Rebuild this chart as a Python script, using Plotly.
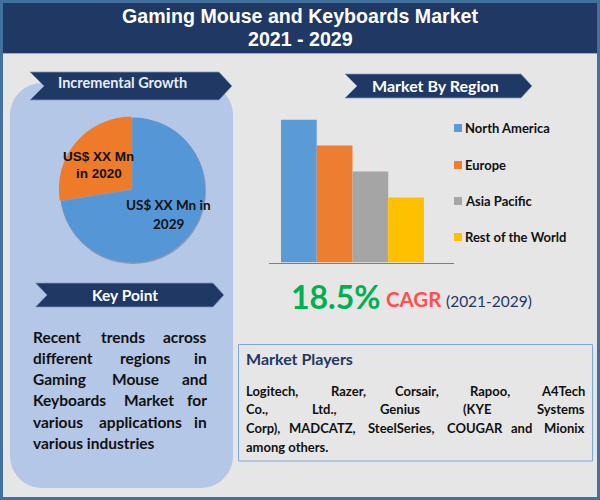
import plotly.graph_objects as go

TITLE_LINES = ["Gaming Mouse and Keyboards Market", "2021 - 2029"]
PIE_LABELS = ["US$ XX Mn in 2029", "US$ XX Mn in 2020"]
PIE_VALUES = [72.5, 27.5]
PIE_COLORS = ["#5596d6", "#ee7b2a"]
REGIONS = ["North America", "Europe", "Asia Pacific", "Rest of the World"]
REGION_VALUES = [4.4, 3.6, 2.8, 2.0]
REGION_COLORS = ["#5b9bd5", "#ed7d31", "#a5a5a5", "#ffc000"]

W, H = 600, 500
LATO = "Lato"
ARIAL = "Liberation Sans"
NAVY = "#1f3864"


def px(x):
    return x / W


def py(y):
    return 1 - y / H


def rect(x0, y0, x1, y1, fill, line=None, lw=0):
    return dict(type="rect", xref="paper", yref="paper", x0=px(x0), x1=px(x1), y0=py(y0), y1=py(y1),
                fillcolor=fill, line=dict(color=line or fill, width=lw), layer="below")


def poly(points, fill, line=None, lw=0):
    path = "M " + " L ".join(f"{px(x):.5f},{py(y):.5f}" for x, y in points) + " Z"
    return dict(type="path", xref="paper", yref="paper", path=path, fillcolor=fill,
                line=dict(color=line or fill, width=lw), layer="below")


def ribbon(x0, x1, tip, notch, y0, y1):
    ym = (y0 + y1) / 2
    return poly([(x0, y0), (x1, y0), (tip, ym), (x1, y1), (x0, y1), (notch, ym)], NAVY, "#7f9cc4", 0.75)


def rounded(x0, y0, x1, y1, r, fill):
    k = r * 0.45
    pts = [
        f"M {px(x0 + r):.5f},{py(y0):.5f}", f"L {px(x1 - r):.5f},{py(y0):.5f}",
        f"C {px(x1 - k):.5f},{py(y0):.5f} {px(x1):.5f},{py(y0 + k):.5f} {px(x1):.5f},{py(y0 + r):.5f}",
        f"L {px(x1):.5f},{py(y1 - r):.5f}",
        f"C {px(x1):.5f},{py(y1 - k):.5f} {px(x1 - k):.5f},{py(y1):.5f} {px(x1 - r):.5f},{py(y1):.5f}",
        f"L {px(x0 + r):.5f},{py(y1):.5f}",
        f"C {px(x0 + k):.5f},{py(y1):.5f} {px(x0):.5f},{py(y1 - k):.5f} {px(x0):.5f},{py(y1 - r):.5f}",
        f"L {px(x0):.5f},{py(y0 + r):.5f}",
        f"C {px(x0):.5f},{py(y0 + k):.5f} {px(x0 + k):.5f},{py(y0):.5f} {px(x0 + r):.5f},{py(y0):.5f}", "Z",
    ]
    return dict(type="path", xref="paper", yref="paper", path=" ".join(pts), fillcolor=fill,
                line=dict(width=0), layer="below")


def label(text, x, y, size, color="#111111", family=LATO, anchor="center", bold=True):
    t = f"<b>{text}</b>" if bold else text
    if anchor == "left":
        x -= 1
    elif anchor == "right":
        x += 1
    return dict(text=t, x=px(x), y=py(y), xref="paper", yref="paper", xanchor=anchor, yanchor="middle",
                showarrow=False, font=dict(size=size, color=color, family=family), borderpad=0, align=anchor)


fig = go.Figure()

fig.add_trace(go.Pie(
    labels=PIE_LABELS, values=PIE_VALUES, sort=False, direction="clockwise", rotation=0,
    marker=dict(colors=PIE_COLORS, line=dict(width=0)), pull=[0, 0.02], textinfo="none",
    hoverinfo="label", showlegend=False,
    domain=dict(x=[px(132.5 - 74), px(132.5 + 74)], y=[py(190 + 74), py(190 - 74)]),
))

for name, val, col in zip(REGIONS, REGION_VALUES, REGION_COLORS):
    fig.add_trace(go.Bar(name=name, x=["Market"], y=[val], marker=dict(color=col, line=dict(width=0)),
                         showlegend=False))

shapes = [
    rect(0, 0, 600, 500, "#41719c"),
    rect(3, 3, 597, 497, "#e6e6e6"),
    rect(3, 3, 597, 53, NAVY),
    rect(3, 53, 597, 54, "#8faadc"),
    rounded(10, 83, 233, 488, 32, "#b4c7e7"),
    ribbon(30, 219, 232, 44, 72, 100),
    ribbon(345, 521, 532, 357, 74, 98),
    ribbon(35.5, 213, 224, 47, 283, 307),
    dict(type="circle", xref="paper", yref="paper", x0=px(60), x1=px(206), y0=py(264), y1=py(118),
         fillcolor="rgba(70,70,70,0.35)", line=dict(width=0), layer="below"),
    rect(238.5, 344.5, 592.5, 461, "rgba(0,0,0,0)", "#7ba9d9", 1),
]

LEGEND_Y = [128, 165, 201, 237]
for ly, col in zip(LEGEND_Y, REGION_COLORS):
    shapes.append(rect(454, ly - 4, 462, ly + 4, col))

ann = [
    label(TITLE_LINES[0], 300.5, 16, 19.6, "white", ARIAL),
    label(TITLE_LINES[1], 300.5, 39, 19.6, "white", ARIAL),
    label("Incremental Growth", 123, 82, 14.5, "#e8edf5"),
    label("Market By Region", 435.5, 86, 16, "white"),
    label("Key Point", 125, 295, 15.5, "white"),
    label("US$ XX Mn", 98.5, 156, 13.5, "#111111", ARIAL),
    label("in 2020", 98.5, 173, 13.5, "#111111", ARIAL),
    label("US$ XX Mn in", 168, 205, 13.5),
    label("2029", 168, 224, 13.5),
    label("18.5%", 335.5, 296, 32, "#00b050", LATO),
    label("CAGR", 414, 299, 20.5, "#ff5050", LATO),
    label("(2021-2029)", 489, 301, 15.5, NAVY, LATO, bold=False),
    label("Market Players", 246, 358, 16, NAVY, LATO, "left"),
]

for ly, name in zip(LEGEND_Y, REGIONS):
    ann.append(label(name, 465, ly, 13, "#111111", LATO, "left"))

KEY_WORDS = [
    (337, [("Recent", 33, "left"), ("trends", 122.5, "center"), ("across", 207, "right")]),
    (358, [("different", 33, "left"), ("regions", 145.5, "center"), ("in", 207, "right")]),
    (379, [("Gaming", 33, "left"), ("Mouse", 135, "center"), ("and", 207, "right")]),
    (400, [("Keyboards", 33, "left"), ("Market", 148.5, "center"), ("for", 207, "right")]),
    (422, [("various", 33, "left"), ("applications", 140.5, "center"), ("in", 207, "right")]),
    (443, [("various industries", 33, "left")]),
]
for ly, words in KEY_WORDS:
    for w, x, a in words:
        ann.append(label(w, x, ly, 15.5, "#111111", LATO, a))

PLAYER_WORDS = [
    (391, [("Logitech,", 246, "left"), ("Razer,", 348, "center"), ("Corsair,", 417, "center"),
           ("Rapoo,", 489.5, "center"), ("A4Tech", 585, "right")]),
    (409, [("Co.,", 246, "left"), ("Ltd.,", 324, "center"), ("Genius", 400, "center"),
           ("(KYE", 477.5, "center"), ("Systems", 585, "right")]),
    (428, [("Corp),", 246, "left"), ("MADCATZ,", 322.5, "center"), ("SteelSeries,", 401, "center"),
           ("COUGAR", 474.5, "center"), ("and", 521, "center"), ("Mionix", 585, "right")]),
    (447, [("among others.", 246, "left")]),
]
for ly, words in PLAYER_WORDS:
    for w, x, a in words:
        ann.append(label(w, x, ly, 13, "#111111", LATO, a))

fig.update_layout(
    width=W, height=H, margin=dict(l=0, r=0, t=0, b=0), paper_bgcolor="#e6e6e6", plot_bgcolor="rgba(0,0,0,0)",
    barmode="group", bargap=0.2, bargroupgap=0, shapes=shapes, annotations=ann, showlegend=False,
    xaxis=dict(domain=[px(269), px(454)], range=[-0.467, 0.568], showticklabels=False, ticks="", showgrid=False,
               zeroline=False, showline=True, linecolor="#7f7f7f", linewidth=1, fixedrange=True),
    yaxis=dict(domain=[py(262.5), py(119.5)], range=[0, 4.4], visible=False, showgrid=False, zeroline=False,
               fixedrange=True),
)
fig.write_html("out.html", config=dict(displayModeBar=False),
               post_script="document.body.style.margin='0';document.body.style.overflow='hidden';")
